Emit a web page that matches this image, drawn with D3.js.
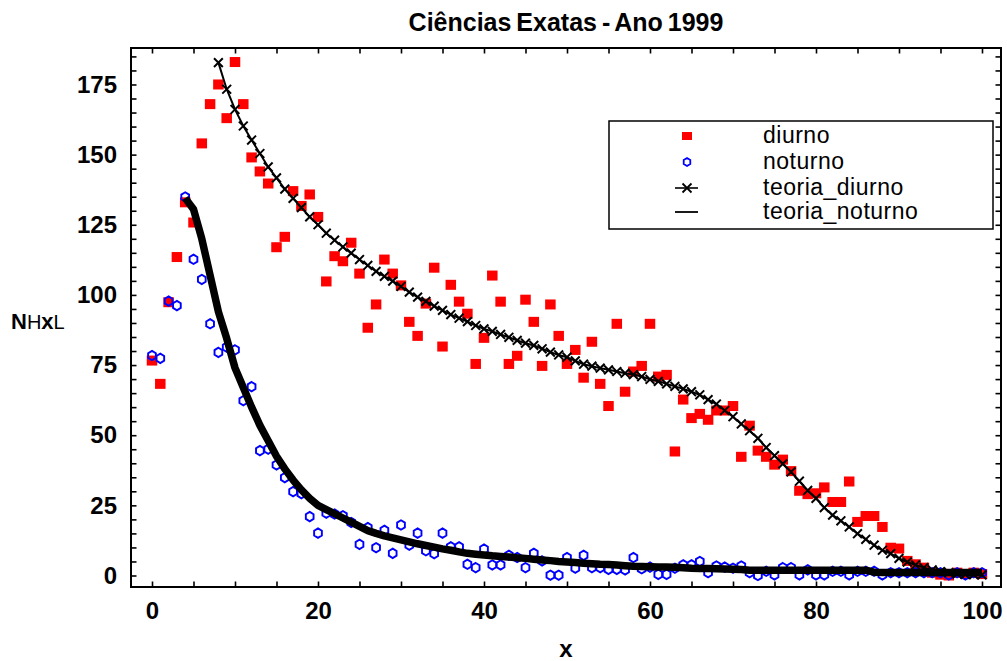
<!DOCTYPE html>
<html>
<head>
<meta charset="utf-8">
<script src="https://cdn.jsdelivr.net/npm/d3@7"></script>
<style>
  html, body { margin: 0; padding: 0; background: #fff; }
  svg { display: block; }
  text { font-family: "Liberation Sans", Arial, sans-serif; }
</style>
</head>
<body>
<svg id="chart" width="1007" height="661"></svg>
<script>
// Ciências Exatas – Ano 1999: observed counts N(x) (day / night) and fitted theory curves.

const titleText = "Ciências Exatas - Ano 1999";
const xLabelText = "x";

const xMajorTicks = [0, 20, 40, 60, 80, 100];
const yMajorTicks = [0, 25, 50, 75, 100, 125, 150, 175];

// diurno: observed values for x = 0..100
const diurno = [
  76.6, 68.3, 97.4, 113.5, 133, 125.8, 154, 168, 175, 163,
  183, 168, 149, 144, 139.7, 117, 120.7, 137, 131.7, 135.8,
  127.8, 104.8, 113.8, 112, 118.6, 107.6, 88.3, 96.6, 112.6, 107.6,
  103.4, 90.4, 85.4, 96.9, 109.7, 81.6, 103.6, 97.6, 93.3, 75.4,
  84.7, 106.9, 97.6, 75.4, 78.3, 98.3, 90.4, 74.7, 96.6, 85.4,
  75.4, 80.4, 70.5, 83.3, 68.3, 60.4, 89.7, 65.5, 72.7, 74.7,
  89.7, 70.9, 71.5, 44.2, 62.7, 56.1, 57.6, 55.5, 58.8, 58.8,
  60.4, 42.3, 53.4, 44.5, 42.3, 39.5, 41.3, 37.2, 30.2, 29,
  29.3, 31.4, 26.2, 26.2, 33.5, 19.1, 21.2, 21.2, 17.3, 9.9,
  9.6, 5.2, 4, 2.8, 1, 0.3, 0, 1, 0.5, 1, 0.5
];

// noturno: observed values for x = 0..100
const noturno = [
  78.4, 77.4, 97.8, 96.2, 134.9, 112.7, 105.5, 89.7, 79.5, 81.4,
  80.4, 62.3, 67.3, 44.5, 45, 39.4, 34.9, 29.9, 29.2, 21,
  15.1, 22.2, 21.9, 21.3, 18.9, 11.1, 17.1, 9.9, 16.1, 7.9,
  18, 10.8, 15.1, 8.8, 7.8, 15.1, 10.2, 10.2, 4, 2.8,
  9.4, 3.75, 3.75, 7.2, 6.4, 2.8, 7.9, 5.2, 0.1, 0.1,
  6.4, 2.6, 7.2, 2.8, 2.8, 2.2, 2.2, 2, 6.4, 2.4,
  3, 0.4, 0.4, 2.6, 3.8, 3.8, 5, 1, 3.4, 3,
  2.6, 3.4, 1, 0, 1.5, 0.2, 2.8, 2.8, 0.2, 2,
  0.2, 0.2, 1.5, 1.5, 0.2, 1.5, 1.5, 1.5, 0.2, 1,
  1, 1, 1, 1, 1, 1, 0.2, 1, 0.2, 1, 1
];

// teoria_diurno: model values for x = 8..100
const teoriaDiurnoStart = 8;
const teoriaDiurno = [
  182.8, 173.3, 166.1, 160.2, 155.2, 150.4, 145.6, 141.7, 137.7, 134.4,
  131.1, 127.8, 125, 122, 119.5, 117.1, 114.9, 112.6, 110.5, 108.4,
  106.6, 104.9, 103, 101, 99.2, 97.7, 96, 94.5, 93, 91.7,
  90.5, 89.1, 87.9, 87, 85.9, 84.9, 83.8, 82.8, 82, 80.8,
  79.6, 78.6, 77.8, 76.5, 75.3, 74.6, 73.9, 73.3, 72.7, 72.1,
  71.6, 70.9, 69.9, 69.2, 68.3, 67.4, 66.5, 65.5, 64.4, 62.7,
  61.1, 58.8, 56.6, 54, 51.6, 48.9, 45.6, 42.7, 39.8, 36.9,
  33.6, 30.3, 27.5, 24.2, 21.5, 19.5, 17.3, 14.9, 12.9, 10.8,
  9, 7.8, 6.1, 4.8, 3.75, 2.8, 2, 1.4, 1, 0.6,
  0.4, 0.3, 0.2
];

// teoria_noturno: model values for x = 4..100
const teoriaNoturnoStart = 4;
const teoriaNoturno = [
  134.5, 130.5, 120, 107, 94, 84.5, 74, 67, 60, 53.5,
  48, 42.5, 38, 34, 30.5, 27.5, 25, 23.5, 22, 20.5,
  19, 17.5, 16, 15, 14.1, 13.4, 12.7, 12, 11.3, 10.7,
  10.1, 9.5, 9, 8.4, 7.9, 7.6, 7.3, 7, 6.8, 6.6,
  6.3, 6.1, 5.8, 5.5, 5.3, 5, 4.8, 4.6, 4.4, 4.2,
  4, 3.9, 3.7, 3.5, 3.3, 3.2, 3.1, 3, 3, 2.9,
  2.8, 2.6, 2.5, 2.5, 2.4, 2.3, 2.2, 2.1, 1.9, 1.9,
  1.9, 1.9, 1.9, 1.9, 1.9, 1.9, 1.9, 1.9, 1.9, 1.9,
  1.9, 1.9, 1.9, 1.2, 1.1, 1.1, 1.1, 1.1, 1.1, 1.1,
  1.1, 1.1, 1.1, 1.1, 1.1, 1.1, 1.1
];

const legendLabels = ["diurno", "noturno", "teoria_diurno", "teoria_noturno"];

// ---------------------------------------------------------------------------
const svg = d3.select("#chart");
const frame = { left: 131, right: 1001, top: 48, bottom: 587 };

const x = d3.scaleLinear().domain([-2.53, 102.29]).range([frame.left, frame.right]);
const y = d3.scaleLinear().domain([-4.1, 188]).range([frame.bottom, frame.top]);

const xMinor = d3.range(0, 101, 5);
const yMinor = d3.range(0, 186, 5);

const plot = svg.append("g");
svg.append("clipPath").attr("id", "plotclip")
  .append("rect")
  .attr("x", frame.left).attr("y", frame.top)
  .attr("width", frame.right - frame.left).attr("height", frame.bottom - frame.top);

const marks = plot.append("g").attr("clip-path", "url(#plotclip)");

const lineGen = d3.line().x(d => x(d[0])).y(d => y(d[1]));
const tnPts = teoriaNoturno.map((v, i) => [teoriaNoturnoStart + i, v]);
const tdPts = teoriaDiurno.map((v, i) => [teoriaDiurnoStart + i, v]);

// day observations: red squares
const sqW = 10.5, sqH = 10;
marks.append("g").selectAll("rect")
  .data(diurno.map((v, i) => [i, v]))
  .join("rect")
  .attr("x", d => x(d[0]) - sqW / 2)
  .attr("y", d => y(d[1]) - sqH / 2)
  .attr("width", sqW).attr("height", sqH)
  .attr("fill", "#ff0000");

// night observations: blue open hexagons
function hexPath(r) {
  const p = d3.path();
  for (let k = 0; k < 6; k++) {
    const a = (-90 + 60 * k) * Math.PI / 180;
    const px = r * Math.cos(a) * 0.95, py = r * Math.sin(a);
    if (k === 0) p.moveTo(px, py); else p.lineTo(px, py);
  }
  p.closePath();
  return p.toString();
}
marks.append("g").selectAll("path")
  .data(noturno.map((v, i) => [i, v]))
  .join("path")
  .attr("d", hexPath(4.7))
  .attr("transform", d => `translate(${x(d[0])},${y(d[1])})`)
  .attr("fill", "none")
  .attr("stroke", "#0000ff")
  .attr("stroke-width", 1.9);

// theory curve for the night series: heavy black line
marks.append("path")
  .datum(tnPts)
  .attr("d", lineGen)
  .attr("fill", "none")
  .attr("stroke", "#000")
  .attr("stroke-width", 7.5)
  .attr("stroke-linejoin", "round");

// theory curve for the day series: thin line with x markers
marks.append("path")
  .datum(tdPts)
  .attr("d", lineGen)
  .attr("fill", "none")
  .attr("stroke", "#000")
  .attr("stroke-width", 2);

function crossPath(r) {
  return `M${-r},${-r}L${r},${r}M${-r},${r}L${r},${-r}`;
}
marks.append("g").selectAll("path")
  .data(tdPts)
  .join("path")
  .attr("d", crossPath(4.4))
  .attr("transform", d => `translate(${x(d[0])},${y(d[1])})`)
  .attr("stroke", "#000")
  .attr("stroke-width", 2)
  .attr("fill", "none");

// ---------------------------------------------------------------------------
// frame with inward ticks on all four sides
const axes = svg.append("g");
const tickLen = 5.5;
const fmtX = d => xMajorTicks.includes(d) ? d : "";
const fmtY = d => yMajorTicks.includes(d) ? d : "";

const axB = axes.append("g").attr("transform", `translate(0,${frame.bottom})`)
  .call(d3.axisBottom(x).tickValues(xMinor).tickSize(-tickLen).tickPadding(15).tickFormat(fmtX));
axes.append("g").attr("transform", `translate(0,${frame.top})`)
  .call(d3.axisTop(x).tickValues(xMinor).tickSize(-tickLen).tickFormat(""));
axes.append("g").attr("transform", `translate(${frame.left},0)`)
  .call(d3.axisLeft(y).tickValues(yMinor).tickSize(-tickLen).tickPadding(14).tickFormat(fmtY));
axes.append("g").attr("transform", `translate(${frame.right},0)`)
  .call(d3.axisRight(y).tickValues(yMinor).tickSize(-tickLen).tickFormat(""));

axes.selectAll(".domain").remove();
axes.selectAll(".tick line").attr("stroke", "#000").attr("stroke-width", 1.6);
axes.selectAll(".tick text")
  .attr("fill", "#000")
  .style("font-family", "'Liberation Sans', Arial, sans-serif")
  .style("font-size", "24px")
  .style("font-weight", "bold");
axB.selectAll(".tick text").attr("dy", "0.71em").attr("y", 15);

axes.append("rect")
  .attr("x", frame.left).attr("y", frame.top)
  .attr("width", frame.right - frame.left).attr("height", frame.bottom - frame.top)
  .attr("fill", "none").attr("stroke", "#000").attr("stroke-width", 2);

// titles
svg.append("text")
  .attr("x", (frame.left + frame.right) / 2).attr("y", 31)
  .attr("text-anchor", "middle")
  .style("font-size", "25px").style("font-weight", "bold")
  .style("word-spacing", "-2px")
  .text(titleText);

svg.append("text")
  .attr("x", (frame.left + frame.right) / 2).attr("y", 657)
  .attr("text-anchor", "middle")
  .style("font-size", "24px").style("font-weight", "bold")
  .text(xLabelText);

const yl = svg.append("text").attr("x", 11).attr("y", 329).style("font-size", "22px");
yl.append("tspan").style("font-weight", "bold").text("N");
yl.append("tspan").style("font-weight", "normal").style("font-size", "20px").text("H");
yl.append("tspan").style("font-weight", "bold").text("x");
yl.append("tspan").style("font-weight", "normal").style("font-size", "20px").text("L");

// ---------------------------------------------------------------------------
// legend
const lg = svg.append("g");
lg.append("rect")
  .attr("x", 609).attr("y", 121).attr("width", 384).attr("height", 108)
  .attr("fill", "#fff").attr("stroke", "#000").attr("stroke-width", 1.5);

const rowY = [136, 162, 188, 212];
const symX = 687, txtX = 763;

lg.append("rect").attr("x", symX - 5).attr("y", rowY[0] - 4).attr("width", 10).attr("height", 8).attr("fill", "#ff0000");
lg.append("path").attr("d", hexPath(4)).attr("transform", `translate(${symX},${rowY[1]})`)
  .attr("fill", "none").attr("stroke", "#0000ff").attr("stroke-width", 1.8);
lg.append("line").attr("x1", symX - 12).attr("x2", symX + 11).attr("y1", rowY[2]).attr("y2", rowY[2])
  .attr("stroke", "#000").attr("stroke-width", 1.6);
lg.append("path").attr("d", crossPath(4.5)).attr("transform", `translate(${symX},${rowY[2]})`)
  .attr("stroke", "#000").attr("stroke-width", 1.8);
lg.append("line").attr("x1", symX - 12).attr("x2", symX + 11).attr("y1", rowY[3]).attr("y2", rowY[3])
  .attr("stroke", "#000").attr("stroke-width", 1.8);

lg.selectAll("text.lbl")
  .data(legendLabels)
  .join("text")
  .attr("class", "lbl")
  .attr("x", txtX)
  .attr("y", (d, i) => rowY[i] + 7)
  .style("font-size", "23px")
  .style("letter-spacing", "0.5px")
  .text(d => d);
</script>
</body>
</html>
